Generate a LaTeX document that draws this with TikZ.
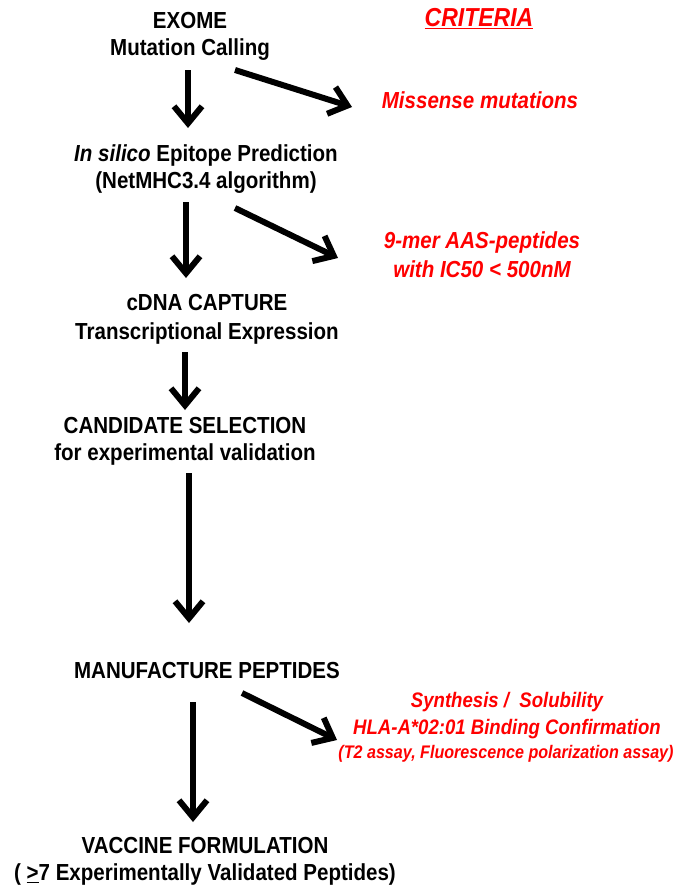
\documentclass[tikz,border=0pt]{standalone}
\usepackage{fontspec}
\setmainfont{Liberation Sans}[FakeStretch=0.885]
\usetikzlibrary{arrows.meta}
\definecolor{critred}{RGB}{255,0,0}
\tikzset{
  blk/.style={inner sep=0pt, anchor=base, align=center, text=black,
    font=\fontsize{23.2}{27.5}\selectfont\bfseries},
  crit/.style={inner sep=0pt, anchor=base, align=center, text=critred,
    font=\fontsize{23.2}{29}\selectfont\bfseries\itshape},
  critsmall/.style={inner sep=0pt, anchor=base, align=center, text=critred,
    font=\fontsize{18.2}{20}\selectfont\bfseries\itshape},
  arr/.style={line width=6pt, -{Straight Barb[length=17pt,width=28pt]}}
}
\begin{document}
\begin{tikzpicture}[x=1pt,y=-1pt]
\useasboundingbox[fill=white] (0,0) rectangle (675,894);
% main flow (anchor = baseline of the last line)
\node[blk] (exome) at (190,55.5) {EXOME\\Mutation Calling};
\node[blk] (insilico) at (206,188.5) {\textit{In silico} Epitope Prediction\\(NetMHC3.4 algorithm)};
\node[blk, font=\fontsize{23.2}{29.5}\selectfont\bfseries] (cdna) at (207,339.5) {cDNA CAPTURE\\Transcriptional Expression};
\node[blk] (cand) at (185,460.5) {CANDIDATE SELECTION\\for experimental validation};
\node[blk] (manu) at (207,678) {MANUFACTURE PEPTIDES};
\node[blk] (vacc) at (205,880.5) {VACCINE FORMULATION\\( \underline{>}7 Experimentally Validated Peptides)};
% criteria
\node[crit, font=\fontsize{26}{29}\selectfont\bfseries\itshape] (crit) at (479,26.5) {\underline{CRITERIA}};
\node[crit] (miss) at (480,108) {Missense mutations};
\node[crit] (mer) at (482,277.5) {9-mer AAS-peptides\\with IC50 < 500nM};
\node[crit, font=\fontsize{21}{27}\selectfont\bfseries\itshape] (synth) at (507,734) {Synthesis /\ \ Solubility\\HLA-A*02:01 Binding Confirmation};
\node[critsmall] (assay) at (506,758.5) {(T2 assay, Fluorescence polarization assay)};
% arrow end points
\coordinate (a1s) at (188,70);  \coordinate (a1e) at (188,128);
\coordinate (a2s) at (235,70);  \coordinate (a2e) at (352,107);
\coordinate (a3s) at (186,202); \coordinate (a3e) at (186,278);
\coordinate (a4s) at (235,208); \coordinate (a4e) at (338,258);
\coordinate (a5s) at (185,352); \coordinate (a5e) at (185,410);
\coordinate (a6s) at (189,473); \coordinate (a6e) at (189,623);
\coordinate (a7s) at (193,702); \coordinate (a7e) at (193,822);
\coordinate (a8s) at (242,693); \coordinate (a8e) at (337,740);
\draw[arr] (a1s) -- (a1e);
\draw[arr] (a2s) -- (a2e);
\draw[arr] (a3s) -- (a3e);
\draw[arr] (a4s) -- (a4e);
\draw[arr] (a5s) -- (a5e);
\draw[arr] (a6s) -- (a6e);
\draw[arr] (a7s) -- (a7e);
\draw[arr] (a8s) -- (a8e);
\end{tikzpicture}
\end{document}
